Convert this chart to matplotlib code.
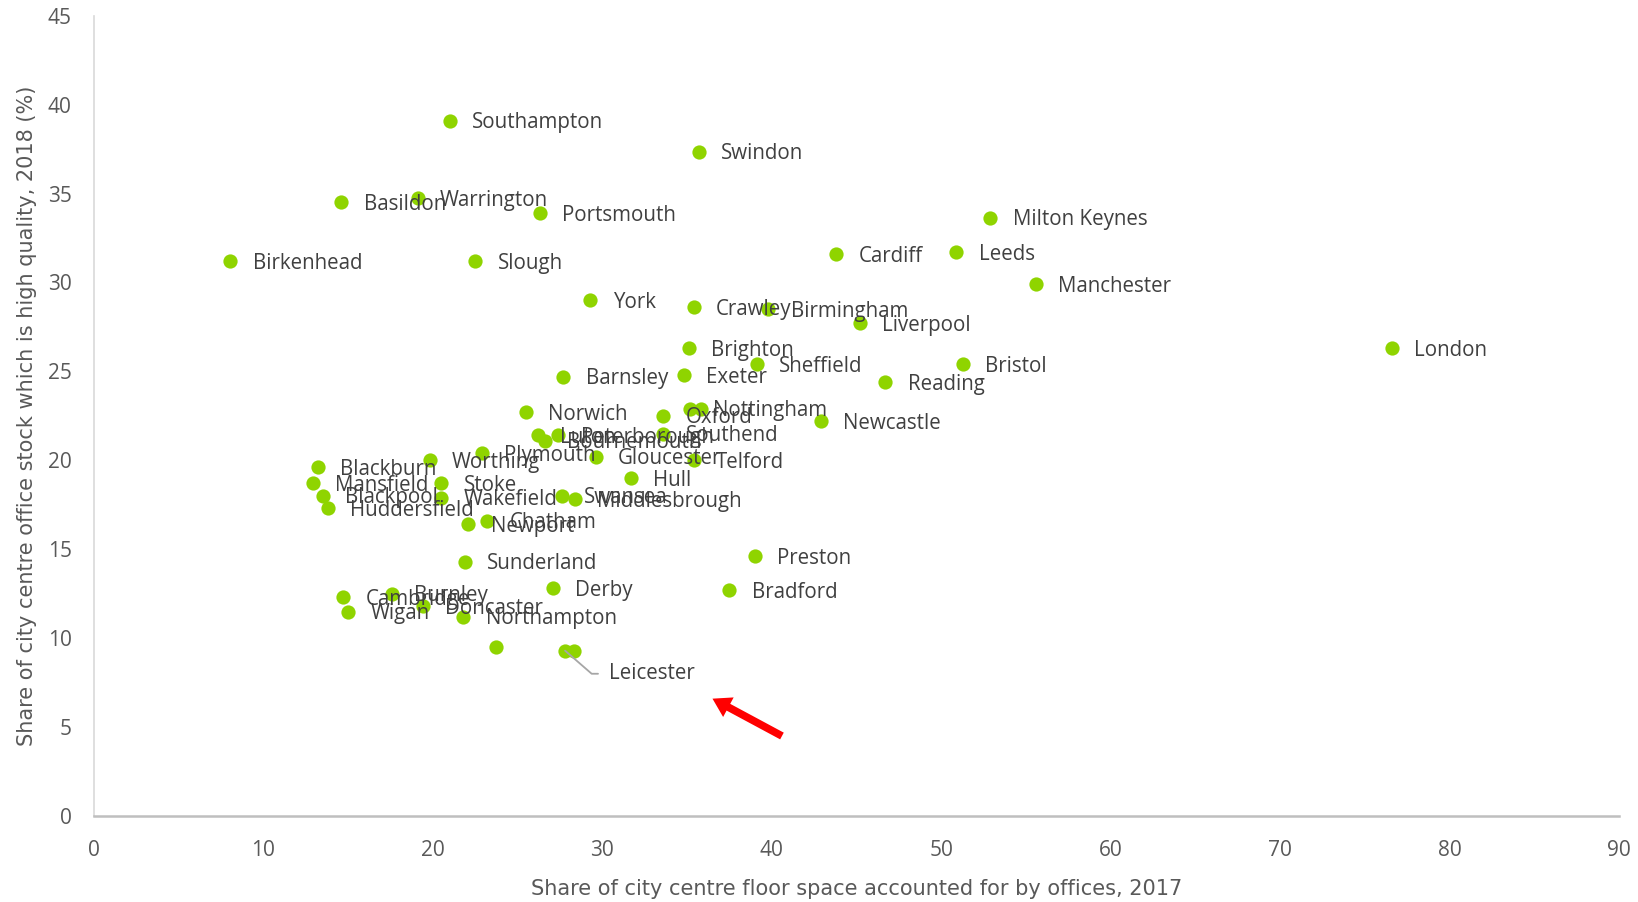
import matplotlib
matplotlib.use("Agg")
import matplotlib.pyplot as plt

# city centre office data
cities = [
    "Southampton", "Swindon", "Basildon", "Warrington", "Portsmouth",
    "Milton Keynes", "Birkenhead", "Slough", "Cardiff", "Leeds",
    "Manchester", "York", "Crawley", "Birmingham", "Liverpool",
    "London", "Brighton", "Sheffield", "Bristol", "Exeter",
    "Reading", "Barnsley", "Norwich", "Nottingham", "", "Oxford",
    "Newcastle", "Luton", "Bournemouth", "Peterborough", "Southend",
    "Blackburn", "Mansfield", "Blackpool", "Huddersfield", "Worthing",
    "Stoke", "Wakefield", "Plymouth", "Gloucester", "Telford", "Hull",
    "Swansea", "Middlesbrough", "Newport", "Chatham", "Sunderland",
    "Preston", "Cambridge", "Wigan", "Burnley", "Doncaster",
    "Northampton", "Derby", "Bradford", "", "Leicester", "",
]
office_share = [
    21.0, 35.7, 14.6, 19.1, 26.3,
    52.9, 8.05, 22.5, 43.8, 50.9,
    55.6, 29.3, 35.4, 39.8, 45.2,
    76.6, 35.1, 39.1, 51.3, 34.8,
    46.7, 27.7, 25.5, 35.2, 35.8, 33.6,
    42.9, 26.2, 26.6, 27.4, 33.6,
    13.2, 12.9, 13.5, 13.8, 19.8,
    20.5, 20.5, 22.9, 29.6, 35.4, 31.7,
    27.6, 28.4, 22.1, 23.2, 21.9,
    39.0, 14.7, 15.0, 17.6, 19.4,
    21.8, 27.1, 37.5, 23.7, 27.8, 28.3,
]
high_quality = [
    39.1, 37.35, 34.5, 34.75, 33.9,
    33.65, 31.2, 31.2, 31.6, 31.7,
    29.9, 29.0, 28.6, 28.5, 27.7,
    26.3, 26.3, 25.4, 25.4, 24.8,
    24.4, 24.7, 22.7, 22.9, 22.9, 22.5,
    22.2, 21.4, 21.1, 21.4, 21.5,
    19.6, 18.7, 18.0, 17.3, 20.0,
    18.7, 17.9, 20.4, 20.2, 20.0, 19.0,
    18.0, 17.8, 16.4, 16.6, 14.3,
    14.6, 12.3, 11.5, 12.5, 11.8,
    11.2, 12.8, 12.7, 9.5, 9.3, 9.3,
]

label_font = "Open Sans"
title_font = "DejaVu Sans"
text_col = "#404040"

fig = plt.figure(figsize=(16.38, 9.02), dpi=100)
ax = fig.add_axes([0.0574, 0.0953, 0.931, 0.8873])

ax.scatter(office_share, high_quality, s=105, color="#8FD400", zorder=3,
           linewidths=0)

for name, x, y in zip(cities, office_share, high_quality):
    if not name or name == "Leicester":
        continue
    ax.annotate(name, (x, y), xytext=(16, -1.5), textcoords="offset points",
                va="center", ha="left", fontsize=14.8, family=label_font,
                color=text_col, zorder=4)

# Leicester has a leader line
li = cities.index("Leicester")
ax.annotate("Leicester", (office_share[li], high_quality[li]),
            xytext=(30.4, 8.0), textcoords="data", va="center", ha="left",
            fontsize=14.8, family=label_font, color=text_col, zorder=4,
            arrowprops=dict(arrowstyle="-", color="#A6A6A6", lw=1.3,
                            connectionstyle="angle,angleA=0,angleB=-41,rad=0",
                            relpos=(0, 0.5), shrinkA=6, shrinkB=0))

# red arrow
ax.annotate("", xy=(36.5, 6.6), xytext=(40.6, 4.5),
            arrowprops=dict(arrowstyle="simple,head_width=1.6,head_length=1.3,tail_width=0.55",
                            color="#FF0000", lw=0, shrinkA=0, shrinkB=0))

ax.set_xlim(0, 90)
ax.set_ylim(0, 45)
ax.set_xticks(range(0, 91, 10))
ax.set_yticks(range(0, 46, 5))
ax.tick_params(length=0, labelsize=15, labelcolor="#595959")
ax.tick_params(axis="x", pad=17)
ax.tick_params(axis="y", pad=16)
for lab in ax.get_xticklabels() + ax.get_yticklabels():
    lab.set_family(label_font)

for s in ["top", "right"]:
    ax.spines[s].set_visible(False)
ax.spines["left"].set_color("#D9D9D9")
ax.spines["left"].set_linewidth(1.2)
ax.spines["bottom"].set_color("#BFBFBF")
ax.spines["bottom"].set_linewidth(1.8)

ax.set_xlabel("Share of city centre floor space accounted for by offices, 2017",
              fontsize=15, family=title_font, color="#595959", labelpad=13)
ax.set_ylabel("Share of city centre office stock which is high quality, 2018 (%)",
              fontsize=15, family=title_font, color="#595959", labelpad=8)

fig.savefig("out.png", dpi=100)
